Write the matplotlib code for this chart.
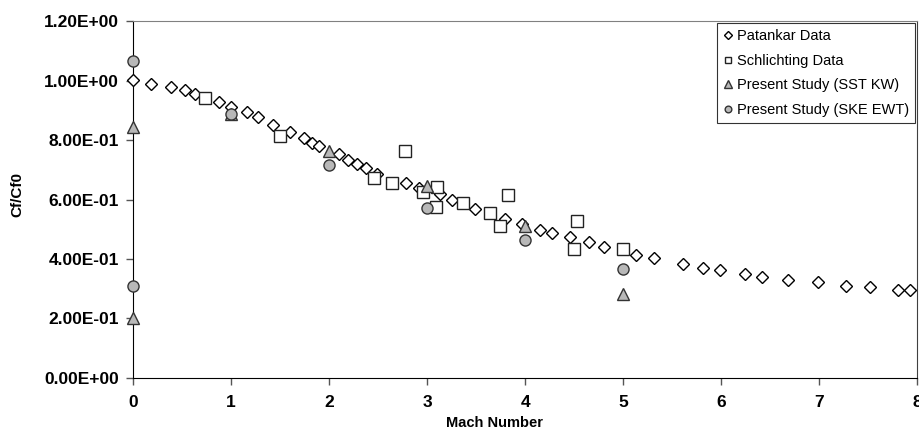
import numpy as np
import matplotlib
matplotlib.use("Agg")
import matplotlib.pyplot as plt
from matplotlib.ticker import FuncFormatter, MultipleLocator

plt.rcParams['font.family'] = ['Liberation Sans', 'DejaVu Sans']

# Patankar data
pat_x = [0.0, 0.18, 0.39, 0.53, 0.63, 0.88, 1.0, 1.16, 1.28, 1.43, 1.60, 1.74, 1.83, 1.90,
         2.10, 2.19, 2.29, 2.38, 2.49, 2.79, 2.92, 3.13, 3.25, 3.49, 3.80, 3.97, 4.15, 4.27,
         4.46, 4.65, 4.81, 5.13, 5.32, 5.61, 5.82, 5.99, 6.24, 6.42, 6.68, 6.99, 7.27, 7.52,
         7.80, 7.93]
pat_y = [1.003, 0.990, 0.979, 0.967, 0.956, 0.927, 0.912, 0.895, 0.877, 0.849, 0.828, 0.807,
         0.790, 0.781, 0.754, 0.734, 0.721, 0.707, 0.687, 0.656, 0.639, 0.617, 0.600, 0.569,
         0.536, 0.518, 0.499, 0.487, 0.475, 0.457, 0.441, 0.415, 0.402, 0.384, 0.370, 0.362,
         0.351, 0.340, 0.331, 0.322, 0.309, 0.305, 0.297, 0.297]

# Schlichting data
sch_x = [0.73, 1.50, 2.46, 2.64, 2.77, 2.96, 3.10, 3.09, 3.37, 3.64, 3.83, 3.74, 4.53, 4.50, 5.0]
sch_y = [0.942, 0.813, 0.671, 0.654, 0.762, 0.625, 0.643, 0.575, 0.587, 0.555, 0.614, 0.510,
         0.529, 0.435, 0.435]

# Present study
sst_x = [0, 0, 1, 2, 3, 4, 5]
sst_y = [0.844, 0.203, 0.888, 0.762, 0.646, 0.510, 0.281]
ske_x = [0, 0, 1, 2, 3, 4, 5]
ske_y = [1.065, 0.309, 0.886, 0.715, 0.572, 0.463, 0.365]

fig = plt.figure(figsize=(9.19, 4.30), dpi=100)
ax = fig.add_axes([0.1447, 0.121, 0.998 - 0.1447, 0.951 - 0.121])

ax.plot(pat_x, pat_y, linestyle='none', marker='D', ms=6.5, mfc='white', mec='black',
        mew=1.0, label='Patankar Data', clip_on=False, zorder=3)
ax.plot(sch_x, sch_y, linestyle='none', marker='s', ms=8, mfc='white', mec='#222222',
        mew=1.0, label='Schlichting Data', clip_on=False, zorder=3)
ax.plot(sst_x, sst_y, linestyle='none', marker='^', ms=9, mfc='#b8b8b8', mec='#333333',
        mew=1.0, label='Present Study (SST KW)', clip_on=False, zorder=4)
ax.plot(ske_x, ske_y, linestyle='none', marker='o', ms=8, mfc='#b8b8b8', mec='#333333',
        mew=1.0, label='Present Study (SKE EWT)', clip_on=False, zorder=5)

ax.set_xlim(0, 8)
ax.set_ylim(0, 1.2)
ax.xaxis.set_major_locator(MultipleLocator(1))
ax.yaxis.set_major_locator(MultipleLocator(0.2))
ax.yaxis.set_major_formatter(FuncFormatter(lambda v, p: f"{v:.2E}"))

for lab in ax.get_xticklabels() + ax.get_yticklabels():
    lab.set_fontweight('bold')
ax.tick_params(axis='both', labelsize=12.5, length=5, width=1, color='#555555', direction='out')
ax.tick_params(axis='x', pad=7)
ax.tick_params(axis='y', pad=5)

ax.spines['left'].set_color('black')
ax.spines['bottom'].set_color('black')
ax.spines['top'].set_color('#808080')
ax.spines['right'].set_color('#404040')

ax.set_xlabel('Mach Number', fontsize=10.5, fontweight='bold', va='center')
ax.xaxis.set_label_coords(0.461, -0.126)
ax.set_ylabel('Cf/Cf0', fontsize=11, fontweight='bold', va='center')
ax.yaxis.set_label_coords(-0.148, 0.513)

leg = ax.legend(loc='upper right', bbox_to_anchor=(0.9975, 0.995), fontsize=10.5,
                markerscale=0.6, handlelength=0.6, handletextpad=0.3, borderpad=0.45,
                labelspacing=0.72, frameon=True, fancybox=False, borderaxespad=0)
leg.get_frame().set_edgecolor('black')
leg.get_frame().set_linewidth(0.8)

fig.savefig('out.png', dpi=100)
